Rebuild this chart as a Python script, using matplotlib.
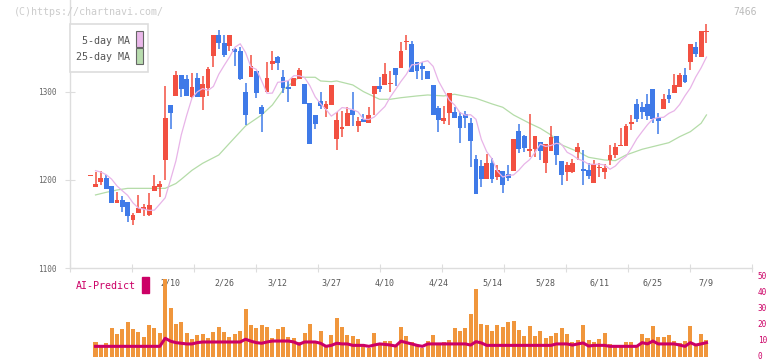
import matplotlib
matplotlib.use("Agg")
from matplotlib import pyplot as plt
from matplotlib.patches import Rectangle
from matplotlib.transforms import ScaledTranslation
import numpy as np
import pandas as pd

# candle index -1 is the lone dash at the far left (no volume bar)
opens = [1204.5, 1192.4, 1198, 1202.3, 1193.2, 1174.2, 1177.3, 1174.7, 1154.5, 1162.9, 1167.4,
         1160.2, 1188, 1191.7, 1222.7, 1285.2, 1295.8, 1319.3, 1314.8, 1294.7, 1316.3,
         1294, 1304.2, 1341.3, 1364.8, 1355.3, 1352.6, 1348.9, 1346.6, 1300.3, 1317.4,
         1323.9, 1283.3, 1300.3, 1332.2, 1339.8, 1317, 1306, 1307.2, 1314.8, 1309,
         1287.5, 1273.9, 1289.8, 1281, 1285.6, 1247, 1258.3, 1261.7, 1279.5, 1261.4,
         1269.7, 1265.2, 1297.7, 1306.8, 1308, 1308.7, 1327.3, 1327.6, 1356.8, 1354.5,
         1333.7, 1330, 1323.9, 1308, 1282.2, 1267.4, 1276.5, 1276.9, 1273, 1275,
         1265.2, 1223.9, 1216.3, 1201, 1219, 1203.4, 1210.2, 1206.8, 1210.2, 1255.7,
         1250, 1233.3, 1235.2, 1243.2, 1219.7, 1233, 1250, 1221.6, 1209.4, 1209.4,
         1232.2, 1212.5, 1211.4, 1197, 1213.6, 1209.4, 1222.7, 1228.4, 1238.6, 1238.6,
         1263.6, 1286.4, 1283, 1286.4, 1303.4, 1270.8, 1280.7, 1296.6, 1299, 1306,
         1319.3, 1334.4, 1351.1, 1340.1, 1368.2]
highs = [1204.5, 1209, 1210, 1205.7, 1193.2, 1186.7, 1181.8, 1174.7, 1162.9, 1182.9, 1172.7,
         1185.6, 1205.7, 1198.9, 1307, 1285.2, 1324, 1319.3, 1319, 1321, 1321,
         1318.5, 1328.8, 1364.8, 1370.5, 1364.8, 1364.8, 1349.7, 1351.5, 1309.9, 1342,
         1323.9, 1285.2, 1334, 1346.6, 1341, 1325, 1312.5, 1316, 1327.6, 1309,
         1287.5, 1273.9, 1300, 1290, 1308.3, 1277.3, 1278.8, 1282.6, 1300, 1272,
         1275.4, 1282.6, 1306.8, 1316.7, 1333.3, 1323.9, 1327.3, 1356.8, 1364.8, 1358,
         1333.7, 1333.7, 1323.9, 1308, 1284, 1284, 1298.9, 1283.3, 1277.7, 1278.8,
         1270, 1228.4, 1223, 1229.5, 1225.4, 1217, 1210.2, 1217, 1246.6, 1263.6,
         1251, 1275, 1250, 1243.2, 1240.9, 1261.4, 1250, 1221.6, 1220.8, 1223.9,
         1242.4, 1234, 1219, 1222.7, 1219, 1218, 1239.8, 1242.4, 1259.5, 1263.6,
         1273.9, 1292, 1289, 1297.7, 1303.4, 1275.8, 1297.7, 1303.4, 1320.5, 1321.6,
         1327.3, 1354.5, 1356.8, 1369.3, 1377.3]
lows = [1204.5, 1192.4, 1194, 1189.4, 1174.2, 1174.2, 1164, 1152.6, 1148.9, 1162.9, 1159.4,
        1159.4, 1188, 1181, 1200, 1257.6, 1295.8, 1294.7, 1295.8, 1293.5, 1294.7,
        1280, 1295.8, 1328.8, 1349, 1339.5, 1347, 1330, 1313.6, 1262.5, 1317.4,
        1293.5, 1254.9, 1300.3, 1325, 1325, 1299.2, 1289, 1307.2, 1314.8, 1286.7,
        1241.3, 1258.3, 1281, 1272, 1285.6, 1234.4, 1249.2, 1261.7, 1261.4, 1254.9,
        1266.3, 1265.2, 1273.9, 1300.3, 1308, 1300.3, 1307.2, 1327.6, 1347.7, 1323.1,
        1315, 1313.6, 1314.8, 1273.9, 1254.9, 1263.3, 1262.5, 1270.8, 1242.4, 1259.5,
        1214.4, 1184.4, 1192.4, 1201, 1197, 1200, 1185.6, 1198.9, 1210.2, 1231,
        1232, 1226.5, 1226.5, 1222.7, 1208.3, 1233, 1217, 1194.3, 1199, 1208,
        1222.7, 1194.3, 1201, 1197, 1203.8, 1201, 1217, 1225.4, 1238.6, 1238.6,
        1256.8, 1266.3, 1269.3, 1268.2, 1265.2, 1252.3, 1280.7, 1287.5, 1299, 1306,
        1309.9, 1325, 1340.1, 1340.1, 1355.7]
closes = [1204.5, 1196, 1202.3, 1189.4, 1174.2, 1177, 1169.7, 1159.4, 1160.2, 1168.2, 1169.7,
          1171.6, 1193.5, 1195.8, 1270.8, 1276.5, 1319.3, 1303.4, 1295.8, 1306, 1294.7,
          1309, 1326, 1364.8, 1356, 1342.4, 1364.8, 1345.8, 1314.8, 1273.9, 1329.5,
          1299.2, 1275, 1315.9, 1335.2, 1333.3, 1304.9, 1303, 1315.9, 1325, 1286.7,
          1241.3, 1264, 1284.4, 1286.4, 1308.3, 1268.2, 1260.2, 1276.1, 1273.9, 1267,
          1266.3, 1273.9, 1306.8, 1303.4, 1320.5, 1310.2, 1319.3, 1346.6, 1357.3, 1323.1,
          1323.9, 1326.5, 1314.8, 1273.9, 1268.2, 1270.8, 1298.9, 1270.8, 1259.5, 1270.8,
          1244.7, 1184.4, 1201, 1219, 1201, 1211.4, 1194.7, 1202.3, 1246.6, 1235.2,
          1236.7, 1235.2, 1250, 1233.3, 1240.9, 1249.2, 1228.4, 1205.7, 1217, 1219.3,
          1237.9, 1210.2, 1204.5, 1218.2, 1214.5, 1213.6, 1228.4, 1237.9, 1239.8, 1261.4,
          1266.3, 1269.3, 1277.3, 1272.7, 1269.3, 1267.4, 1292, 1292, 1308, 1319.3,
          1311.4, 1354.5, 1343.5, 1369.3, 1369.3]

# volume (in the right-hand scale) and AI-Predict line, candle 0..114
volume = [9.7, 6.2, 8.9, 18.2, 14.5, 17.6, 22, 17.6, 15.7, 12.6, 20.1, 18.2, 15.1, 48.7, 30.7,
          20.7, 22, 15.3, 11.4, 13.9, 14.5, 12, 15.7, 18.9, 15.7, 12.6, 14.5, 16.4, 30.1, 20.1,
          18.2, 20.1, 18.9, 12, 17.6, 18.9, 12.6, 12, 9.5, 15, 20.7, 10, 16.4, 7, 13.9,
          24.5, 18.9, 13.9, 13.3, 11.4, 8.3, 5.8, 15.1, 8.3, 10.1, 10.1, 7, 18.9, 13.3, 9.5,
          7, 5.8, 10.1, 13.9, 8.3, 9.5, 10.8, 18.2, 16.4, 18.2, 27, 42.5, 20.7, 20.1, 16.4,
          20.1, 18.9, 22, 22.6, 17, 13.3, 19.5, 13.3, 16.4, 12, 13.3, 15.1, 18.2, 14.5, 9.5,
          10.8, 20.1, 10.8, 9.5, 11.4, 15.1, 8.3, 7, 7, 9.5, 9.5, 7, 14.5, 12, 19.5,
          12.6, 12.6, 13.9, 10.1, 8.9, 10.1, 19.5, 7, 14.5, 10.8]
ai_predict = [6.8] * 13 + [11.8, 10.0, 9.1, 8.7, 8.3, 8.3, 9.1] + [9.5] * 8 + \
             [11.2, 10.0, 9.1, 8.7, 9.5, 10.1, 10.1, 10.1, 10.1, 9.5, 8.1, 9.5, 9.5, 9.5, 8.7,
              6.8, 7.4, 8.7, 8.3, 8.3, 7.4, 7.4, 7.4, 6.8, 7.6, 8.3, 8.0, 7.6, 7.0, 10.0, 9.1,
              8.3, 7.4, 6.8, 8.3] + [8.3] * 7 + [7.6, 9.7, 8.9] + [7.4] * 13 + \
             [8.3, 8.3, 8.3, 7.6, 8.3, 8.9, 7.0, 7.4, 7.4, 7.4] + [6.8] * 6 + \
             [9.1, 8.3, 10.1, 8.3, 8.3, 8.3, 8.3, 7.6, 6.8, 9.1, 7.6, 8.3, 9.1]

# 5-day MA for the first days (window reaches before the chart)
ma5_head = [1210.6, 1209, 1206, 1201]
# 25-day MA
ma25_idx = [0, 2, 4, 6, 13, 15, 16, 18, 20, 23, 25, 28, 31, 33, 35, 38, 41, 42, 44, 45, 48,
            50, 53, 55, 57, 60, 62, 65, 67, 71, 74, 76, 78, 81, 83, 85, 87, 90, 92, 95, 97,
            99, 102, 104, 107, 109, 111, 113, 114]
ma25 = [1183, 1186, 1188.6, 1190.5, 1190.5, 1196, 1200.8, 1211, 1219, 1228.4, 1241.7, 1261.4,
        1273.9, 1285.2, 1302.3, 1316.7, 1316.7, 1312.5, 1311.7, 1312.5, 1308, 1300.4, 1291.7,
        1291.7, 1293.5, 1295.5, 1296.6, 1295.5, 1297.4, 1292.8, 1286.4, 1282.6, 1273.9, 1264.4,
        1258.7, 1251.1, 1239.8, 1232.2, 1225.8, 1222.7, 1222, 1228.4, 1234.9, 1237.9, 1242.4,
        1249.2, 1254.9, 1264.4, 1273.9]

date_labels = ['2/10', '2/26', '3/12', '3/27', '4/10', '4/24', '5/14', '5/28', '6/11', '6/25', '7/9']
date_idx = [14, 24, 34, 44, 54, 64, 74, 84, 94, 104, 114]

RED = '#f25041'
BLUE = '#3f7ae8'
GRID = '#dddddd'
MAG = '#cc0066'
FONT = 'DejaVu Sans Mono'

W, H = 772, 361
def box(l, t, r, b):
    return [l / W, 1 - b / H, (r - l) / W, (b - t) / H]

df = pd.DataFrame({'o': opens, 'h': highs, 'l': lows, 'c': closes},
                  index=np.arange(-1, len(opens) - 1))
ma5 = df['c'].rolling(5).mean().shift(1)
ma5.loc[0:3] = ma5_head

fig = plt.figure(figsize=(W / 100, H / 100), dpi=100)
xlim = (-4.76, 122.5)

ax = fig.add_axes(box(70, 0, 752, 268))
up = df['c'] >= df['o']
colors = np.where(up, RED, BLUE)
ax.vlines(df.index, df['l'], df['h'], colors=colors, lw=1.1, zorder=2)
ax.bar(df.index, np.maximum((df['c'] - df['o']).abs(), 1.3), bottom=np.minimum(df['o'], df['c']),
       width=0.9, color=colors, lw=0, zorder=3)
ax.plot(ma5.index, ma5.values, color='#e8b4e8', lw=0.9, zorder=4)
ax.plot(ma25_idx, ma25, color='#b4dca8', lw=0.9, zorder=1)

ax.set_xlim(xlim)
ax.set_ylim(1100, 1404.5)
for s in ['top', 'right']:
    ax.spines[s].set_visible(False)
for s in ['left', 'bottom']:
    ax.spines[s].set_color(GRID)
    ax.spines[s].set_linewidth(1)
ax.set_yticks([1100, 1200, 1300])
ax.set_yticklabels(['1100', '1200', '1300'], fontfamily=FONT, fontsize=5.6, color='#666666')
ax.tick_params(axis='y', direction='inout', length=7, color=GRID, pad=6)
ax.set_xticks(np.linspace(xlim[0], xlim[1], 12))
ax.set_xticklabels([])
ax.tick_params(axis='x', direction='inout', length=6, color=GRID)

vax = fig.add_axes(box(70, 276.7, 752, 357.3))
vax.patch.set_alpha(0)
vidx = np.arange(len(volume))
vax.bar(vidx, volume, width=0.75, color='#f0963c', lw=0, clip_on=False)
vax.plot(vidx, ai_predict, color=MAG, lw=2.2, clip_on=False)
vax.set_xlim(xlim)
vax.set_ylim(0, 50)
for s in vax.spines.values():
    s.set_visible(False)
vax.set_xticks([])
vax.yaxis.tick_right()
vax.set_yticks([0, 10, 20, 30, 40, 50])
vax.set_yticklabels(['0', '10', '20', '30', '40', '50'], fontfamily=FONT, fontsize=5.6, color=MAG)
vax.tick_params(axis='y', length=0, pad=4)
nudge = ScaledTranslation(0, 1.5 / 100, fig.dpi_scale_trans)
for lab in vax.get_yticklabels():
    lab.set_transform(lab.get_transform() + nudge)

for lab, i in zip(date_labels, date_idx):
    ax.text(i, -15 / 268, lab, transform=ax.get_xaxis_transform(), ha='center', va='center',
            fontfamily=FONT, fontsize=6, color='#555555', zorder=10, clip_on=False)

fig.text(76 / W, 1 - 286 / H, 'AI-Predict', color=MAG, fontfamily=FONT, fontsize=7.2, va='center')
fig.patches.append(Rectangle((142 / W, 1 - 293 / H), 7 / W, 16 / H, transform=fig.transFigure,
                             color=MAG))

# legend box
fig.patches.append(Rectangle((70 / W, 1 - 72 / H), 78 / W, 48 / H, transform=fig.transFigure,
                             facecolor='white', edgecolor=GRID, lw=1.2, zorder=5))
fig.text(130 / W, 1 - 40.7 / H, '5-day MA', ha='right', va='center', fontfamily=FONT,
         fontsize=7.2, color='#555555', zorder=6)
fig.text(130 / W, 1 - 56.7 / H, '25-day MA', ha='right', va='center', fontfamily=FONT,
         fontsize=7.2, color='#555555', zorder=6)
fig.patches.append(Rectangle((136 / W, 1 - 47 / H), 7 / W, 16 / H, transform=fig.transFigure,
                             facecolor='#eab8ea', edgecolor='#666666', lw=0.8, zorder=6))
fig.patches.append(Rectangle((136 / W, 1 - 63.5 / H), 7 / W, 15.5 / H, transform=fig.transFigure,
                             facecolor='#b8dcae', edgecolor='#666666', lw=0.8, zorder=6))

fig.text(14 / W, 1 - 12 / H, '(C)https://chartnavi.com/', va='center', fontfamily=FONT,
         fontsize=7.2, color='#cccccc')
fig.text(757 / W, 1 - 12.3 / H, '7466', ha='right', va='center', fontfamily=FONT,
         fontsize=7, color='#bbbbbb')

fig.savefig('out.png', dpi=100)
